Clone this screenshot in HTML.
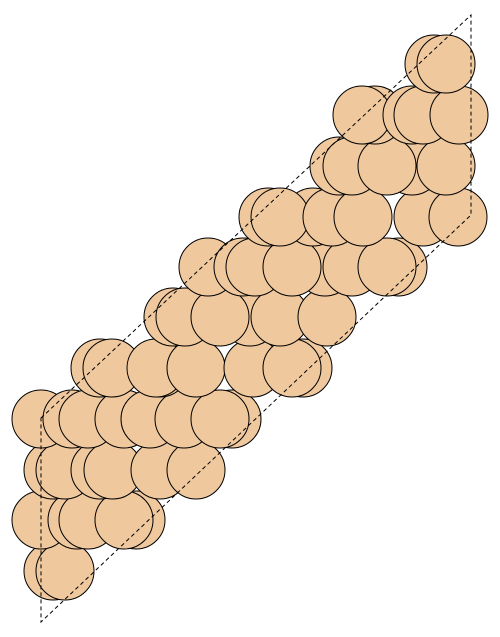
<!DOCTYPE html>
<html><head><meta charset="utf-8"><style>
html,body{margin:0;padding:0;background:#fff;}
svg{display:block;}
</style></head><body>
<svg id="chart" width="500" height="637" viewBox="0 0 500 637" xmlns="http://www.w3.org/2000/svg">
<g id="atoms"></g>
<polygon points="41,418 471,15 471,215 41,622" fill="none" stroke="#000" stroke-width="1" stroke-dasharray="4,3"/>
</svg>
<script>
const rowY = [64, 115, 166, 217, 267, 317, 368, 419, 470, 520, 571];
const rowAtoms = [
  [434, 446],
  [375, 362, 412, 423, 459],
  [412, 339, 352, 387, 446],
  [313, 268, 280, 332, 363, 423, 458],
  [325, 208, 243, 255, 292, 398, 352, 387],
  [250, 173, 185, 220, 280, 327],
  [160, 100, 112, 156, 196, 253, 303, 292],
  [41, 72, 88, 124, 150, 232, 184, 220],
  [53, 65, 100, 113, 160, 196],
  [41, 77, 88, 136, 124],
  [53, 65]
];
const radius = 29;
const g = document.getElementById('atoms');
const NS = 'http://www.w3.org/2000/svg';
for (let r = rowY.length - 1; r >= 0; r--) {
  rowAtoms[r].forEach(function (x) {
    const c = document.createElementNS(NS, 'circle');
    c.setAttribute('cx', x);
    c.setAttribute('cy', rowY[r]);
    c.setAttribute('r', radius);
    c.setAttribute('fill', '#efc89e');
    c.setAttribute('stroke', '#000');
    c.setAttribute('stroke-width', '1');
    
    
    g.appendChild(c);
  });
}
</script>
</body></html>
